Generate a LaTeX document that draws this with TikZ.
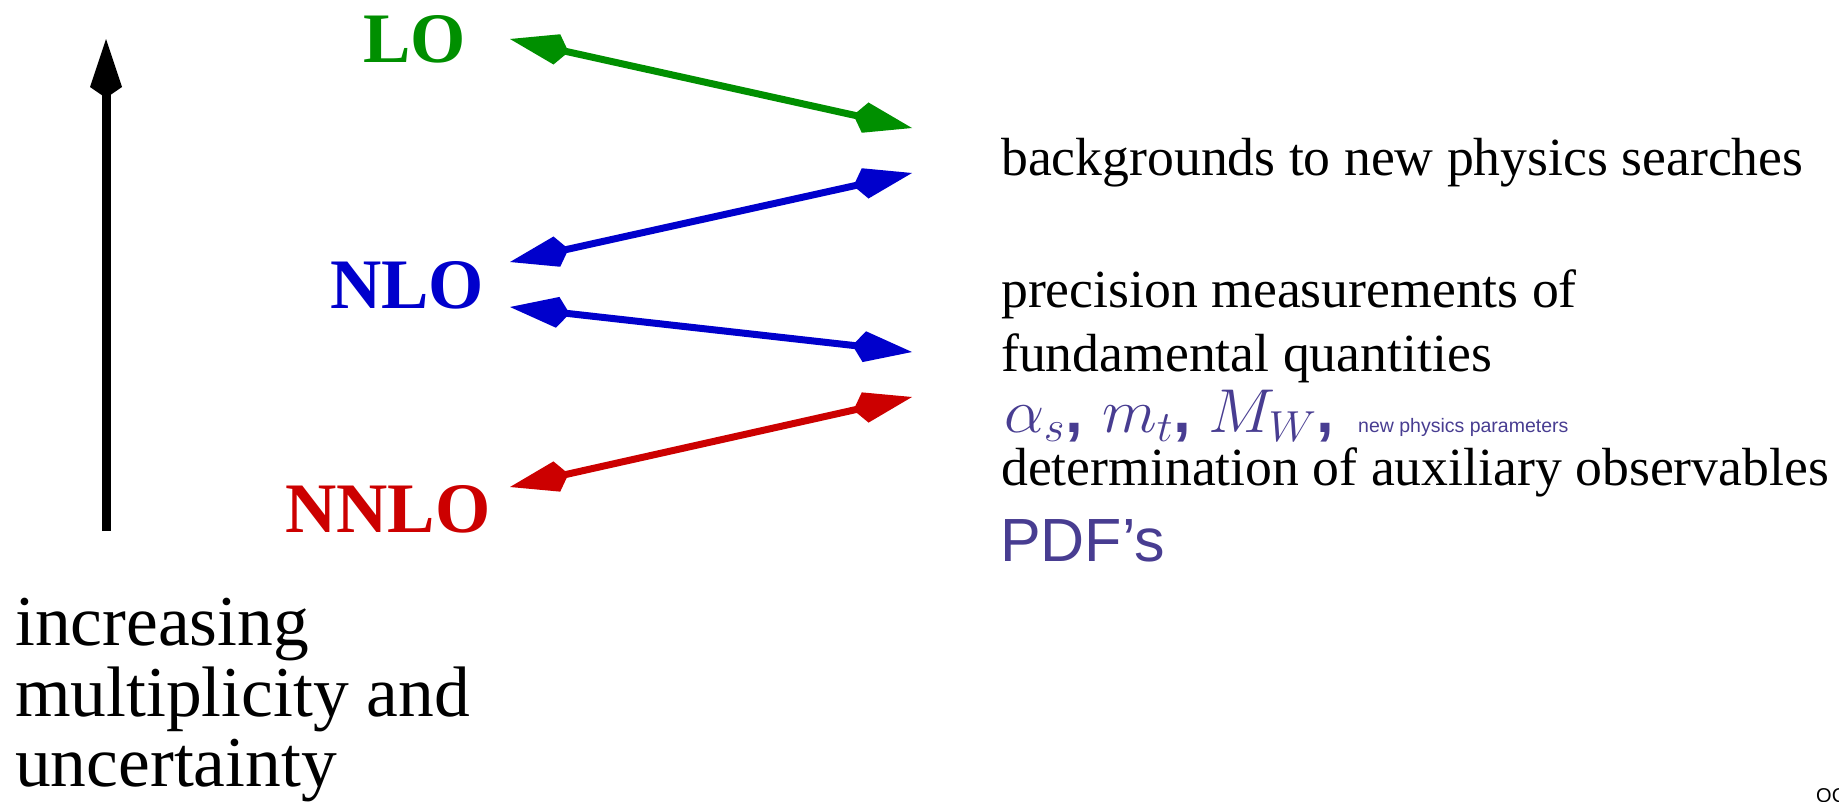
\RequirePackage{fix-cm}
\documentclass[tikz,border=0pt]{standalone}
\usepackage{graphicx}
\usepackage[no-math]{fontspec}
\setmainfont{Liberation Serif}
\newfontfamily\hvfont{Liberation Sans}
\usetikzlibrary{arrows.meta}
\definecolor{loGreen}{RGB}{0,143,0}
\definecolor{nloBlue}{RGB}{0,0,204}
\definecolor{nnloRed}{RGB}{204,0,0}
\definecolor{paramPurple}{RGB}{72,61,145}
\newcommand{\mcomma}{{\hvfont\bfseries ,}}
\newcommand{\wideMath}[1]{\scalebox{1.03}[1]{#1}}
\begin{document}
\begin{tikzpicture}[x=1pt,y=-1pt,
  lbl/.style={anchor=base west, inner sep=0pt, font=\bfseries\fontsize{71}{71}\selectfont},
  txt/.style={anchor=base west, inner sep=0pt, font=\fontsize{53.7}{60}\selectfont},
  big/.style={anchor=base west, inner sep=0pt, font=\fontsize{71.5}{72}\selectfont},
  mth/.style={anchor=base west, inner sep=0pt, text=paramPurple, font=\fontsize{62}{62}\selectfont},
  link/.style={line width=7pt, {Kite[length=60pt,width=31pt,inset=12pt]}-{Kite[length=60pt,width=31pt,inset=12pt]}}]
\useasboundingbox (0,0) rectangle (1839,801);

% vertical arrow
\coordinate (vb) at (106,531);
\coordinate (vt) at (106,39);
\draw[line width=9pt, -{Kite[length=59pt,width=32pt,inset=11pt]}] (vb) -- (vt);

% order labels
\node[lbl, text=loGreen] (lo) at (363,62) {LO};
\node[lbl, text=nloBlue] (nlo) at (330,308) {NLO};
\node[lbl, text=nnloRed] (nnlo) at (285,532) {NNLO};

% arrow end points
\coordinate (g1) at (510,39);  \coordinate (g2) at (912,128);
\coordinate (b1) at (912,173); \coordinate (b2) at (510,262);
\coordinate (b3) at (510,307); \coordinate (b4) at (912,352);
\coordinate (r1) at (912,397); \coordinate (r2) at (510,487);

\draw[link, loGreen] (g1) -- (g2);
\draw[link, nloBlue] (b1) -- (b2);
\draw[link, nloBlue] (b3) -- (b4);
\draw[link, nnloRed] (r1) -- (r2);

% right texts
\node[txt] (bg) at (1001,175) {backgrounds to new physics searches};
\node[txt] (pm) at (1001,307) {precision measurements of};
\node[txt] (fq) at (1001,371) {fundamental quantities};
\node[mth] (ma) at (1004,432) {\wideMath{$\alpha_s$\mcomma}};
\node[mth] (mb) at (1102,432) {\wideMath{$m_t$\mcomma}};
\node[mth] (mc) at (1208,432) {\wideMath{$M_W$\mcomma}};
\node[anchor=base west, inner sep=0pt, text=paramPurple, font=\hvfont\fontsize{19.5}{20}\selectfont] (np) at (1358,432)
  {new physics parameters};
\node[txt] (det) at (1001,485) {determination of auxiliary observables};
\node[anchor=base west, inner sep=0pt, text=paramPurple, font=\hvfont\fontsize{61}{61}\selectfont] (pdf) at (1000,561) {PDF’s};

% left bottom text
\node[big] (t1) at (15,645) {increasing};
\node[big] (t2) at (15,716) {multiplicity and};
\node[big] (t3) at (15,786) {uncertainty};

% corner text
\node[anchor=base west, inner sep=0pt, font=\hvfont\fontsize{20}{20}\selectfont] (qc) at (1816,802) {QC};
\end{tikzpicture}
\end{document}
